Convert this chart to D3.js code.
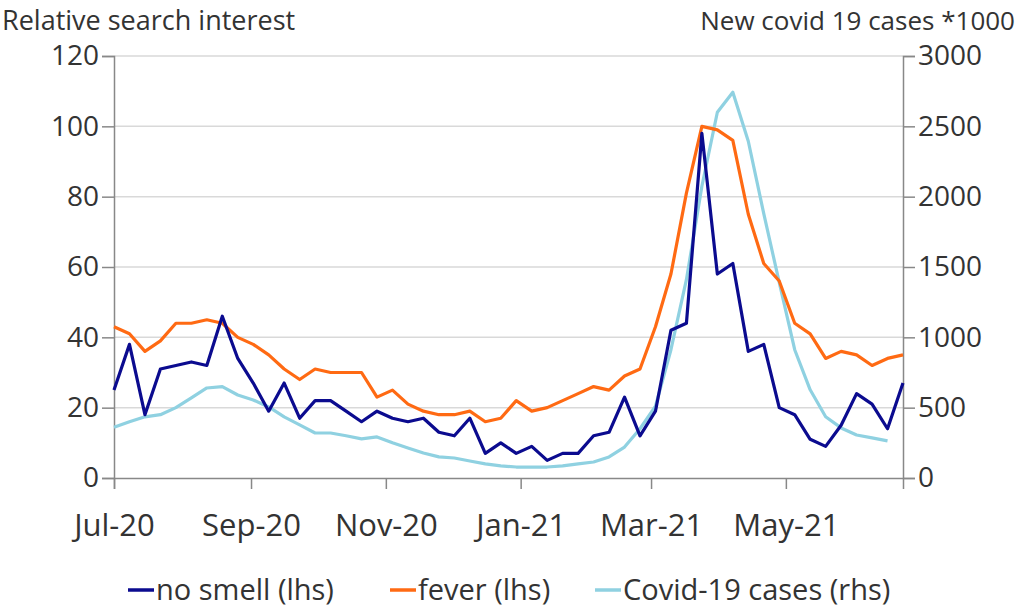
<!DOCTYPE html>
<html>
<head>
<meta charset="utf-8">
<script src="https://cdn.jsdelivr.net/npm/d3@7"></script>
<style>
  body { margin: 0; background: #fff; }
  text { font-family: "Open Sans", "Noto Sans", sans-serif; fill: #333; }
</style>
</head>
<body>
<svg id="mainsvg" width="1032" height="607"></svg>
<script>
// weekly observations, first week starts 1 Jul 2020
let startDate = "2020-07-01";

let noSmell = [25, 38, 18, 31, 32, 33, 32, 46, 34, 27, 19, 27, 17, 22, 22, 19, 16, 19, 17, 16,
    17, 13, 12, 17, 7, 10, 7, 9, 5, 7, 7, 12, 13, 23, 12, 19, 42, 44, 98, 58,
    61, 36, 38, 20, 18, 11, 9, 15, 24, 21, 14, 27];

let fever = [43, 41, 36, 39, 44, 44, 45, 44, 40, 38, 35, 31, 28, 31, 30, 30, 30, 23, 25, 21,
    19, 18, 18, 19, 16, 17, 22, 19, 20, 22, 24, 26, 25, 29, 31, 43, 58, 81, 100, 99,
    96, 75, 61, 56, 44, 41, 34, 36, 35, 32, 34, 35];

let covidCases = [360, 400, 435, 450, 500, 570, 640, 650, 590, 555, 505, 435, 378, 320, 320, 300, 278, 292, 250, 214,
    178, 150, 142, 121, 100, 86, 78, 78, 78, 86, 100, 114, 150, 220, 350, 510, 912, 1410, 2074, 2600,
    2743, 2394, 1880, 1390, 912, 627, 435, 356, 306, 285, 264];

let leftTicks = [0, 20, 40, 60, 80, 100, 120];
let rightTicks = [0, 500, 1000, 1500, 2000, 2500, 3000];
let monthTicks = ["2020-07-01", "2020-09-01", "2020-11-01", "2021-01-01", "2021-03-01", "2021-05-01"];

let seriesNames = ["no smell (lhs)", "fever (lhs)", "Covid-19 cases (rhs)"];
let seriesColors = ["#0b0b8f", "#ff6a13", "#8fd1e1"];

let svg = d3.select("#mainsvg");
let parse = d3.utcParse("%Y-%m-%d");
let t0 = parse(startDate);
let dates = noSmell.map((d, i) => d3.utcDay.offset(t0, 7 * i));

let plotLeft = 114, plotRight = 903, plotTop = 56, plotBottom = 478;

let x = d3.scaleUtc().domain([dates[0], dates[dates.length - 1]]).range([plotLeft, plotRight]);
let yL = d3.scaleLinear().domain([0, 120]).range([plotBottom, plotTop]);
let yR = d3.scaleLinear().domain([0, 3000]).range([plotBottom, plotTop]);

// gridlines
svg.append("g").selectAll("line").data(leftTicks.slice(1)).enter()
    .append("line")
    .attr("x1", plotLeft).attr("x2", plotRight)
    .attr("y1", d => yL(d)).attr("y2", d => yL(d))
    .attr("stroke", "#d9d9d9").attr("stroke-width", 1.5);

// left axis
let gL = svg.append("g").attr("transform", `translate(${plotLeft},0)`)
    .call(d3.axisLeft(yL).tickValues(leftTicks).tickSize(12).tickPadding(3));
// right axis
let gR = svg.append("g").attr("transform", `translate(${plotRight},0)`)
    .call(d3.axisRight(yR).tickValues(rightTicks).tickSize(12).tickPadding(3).tickFormat(d3.format("d")));
// x axis
let gX = svg.append("g").attr("transform", `translate(0,${plotBottom})`)
    .call(d3.axisBottom(x).tickValues(monthTicks.map(parse)).tickSize(11).tickPadding(25)
        .tickFormat(d3.utcFormat("%b-%y")));

for (let g of [gL, gR, gX]) {
    g.select(".domain").attr("stroke", "#888").attr("stroke-width", 1.5);
    g.selectAll(".tick line").attr("stroke", "#888").attr("stroke-width", 1.5);
    g.selectAll(".tick text").style("font-size", "28px").attr("fill", "#333");
}
gX.selectAll(".tick text").style("font-size", "31px");

// lines
let lineL = d3.line().x((d, i) => x(dates[i])).y(d => yL(d));
let lineR = d3.line().x((d, i) => x(dates[i])).y(d => yR(d));

let plotG = svg.append("g").attr("fill", "none").attr("stroke-width", 3.2).attr("stroke-linejoin", "round");
plotG.append("path").attr("d", lineR(covidCases)).attr("stroke", seriesColors[2]);
plotG.append("path").attr("d", lineL(fever)).attr("stroke", seriesColors[1]);
plotG.append("path").attr("d", lineL(noSmell)).attr("stroke", seriesColors[0]);

// axis titles
svg.append("text").attr("x", 2).attr("y", 30).style("font-size", "27px")
    .text("Relative search interest");
svg.append("text").attr("x", 1015).attr("y", 30).attr("text-anchor", "end").style("font-size", "26px")
    .text("New covid 19 cases *1000");

// legend
let legendX = [128, 390, 595];
let lg = svg.append("g").selectAll("g").data(seriesNames).enter()
    .append("g").attr("transform", (d, i) => `translate(${legendX[i]},590)`);
lg.append("line").attr("x1", 0).attr("x2", 26).attr("y1", 0).attr("y2", 0)
    .attr("stroke", (d, i) => seriesColors[i]).attr("stroke-width", 3.5);
lg.append("text").attr("x", 28).attr("dy", "0.35em").style("font-size", "29px").text(d => d);
</script>
</body>
</html>
